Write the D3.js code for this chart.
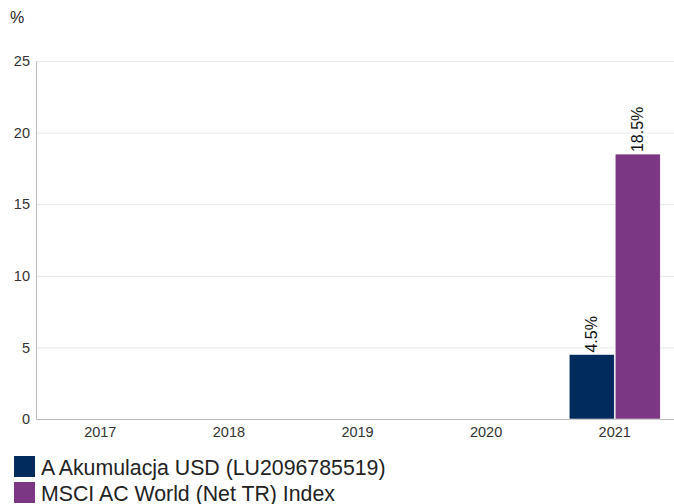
<!DOCTYPE html>
<html><head><meta charset="utf-8">
<script src="https://cdn.jsdelivr.net/npm/d3@7/dist/d3.min.js"></script>
<style>body{margin:0;background:#fff;font-family:"Liberation Sans",Arial,sans-serif;}</style>
</head><body>
<svg id="c" width="674" height="504"></svg>
<script>
const categories = ["2017","2018","2019","2020","2021"];
const seriesNames = ["A Akumulacja USD (LU2096785519)","MSCI AC World (Net TR) Index"];
const fundValues = [null,null,null,null,4.5];
const indexValues = [null,null,null,null,18.5];
const yTicks = [0,5,10,15,20,25];
const colors = ["#002b5c","#7b3784"];

const svg = d3.select("#c");
const m = {left:36, right:679, top:61, bottom:419};
const x = d3.scaleBand().domain(categories).range([m.left, m.right]);
const y = d3.scaleLinear().domain([0,25]).range([m.bottom, m.top]);
const x1 = d3.scaleBand().domain([0,1]).range([0, 91]);

// gridlines
svg.append("g").selectAll("line").data(yTicks.filter(d=>d>0)).join("line")
  .attr("x1", m.left).attr("x2", 674).attr("y1", d=>y(d)+0.5).attr("y2", d=>y(d)+0.5)
  .attr("stroke","#e8e8e8").attr("stroke-width",1);

// y tick labels
const yAxis = svg.append("g").attr("transform",`translate(${m.left},0)`)
  .call(d3.axisLeft(y).tickValues(yTicks).tickSize(0).tickPadding(6));
yAxis.select(".domain").attr("stroke","#bbb");
yAxis.selectAll("text").attr("font-size",14.5).attr("fill","#333").attr("font-family","Liberation Sans, Arial, sans-serif");

// x axis
const xAxis = svg.append("g").attr("transform",`translate(0,${m.bottom})`)
  .call(d3.axisBottom(x).tickSize(0).tickPadding(8));
xAxis.select(".domain").attr("stroke","#bbb").attr("d",`M${m.left},0.5H674`);
xAxis.selectAll("text").attr("font-size",14.5).attr("fill","#333").attr("font-family","Liberation Sans, Arial, sans-serif");

svg.append("text").attr("x",10).attr("y",23).attr("font-size",16).attr("fill","#222").text("%");

const series = [fundValues, indexValues];
series.forEach((vals,si)=>{
  const g = svg.append("g");
  const data = categories.map((c,i)=>({c, v:vals[i]})).filter(d=>d.v!=null);
  g.selectAll("rect").data(data).join("rect")
    .attr("x", d=>x(d.c)+x.bandwidth()/2-45.5+x1(si)+ (si?0.5:0))
    .attr("width", 45)
    .attr("y", d=>y(d.v)).attr("height", d=>y(0)-y(d.v))
    .attr("fill", colors[si]).attr("stroke","#fff").attr("stroke-width",0.5);
  g.selectAll("text").data(data).join("text")
    .attr("transform", d=>{
      const cx = x(d.c)+x.bandwidth()/2-45.5+x1(si)+(si?0.5:0)+22.5+5.5;
      return `translate(${cx},${y(d.v)-2}) rotate(-90)`;
    })
    .attr("font-size",16).attr("fill","#111").text(d=>d.v.toFixed(1)+"%");
});

// legend
const lg = svg.append("g");
seriesNames.forEach((n,i)=>{
  lg.append("rect").attr("x",14).attr("y",456+i*26).attr("width",21).attr("height",21).attr("fill",colors[i]);
  lg.append("text").attr("x",41).attr("y",475+i*26).attr("font-size",21.3).attr("fill","#222").text(n);
});
</script>
</body></html>
